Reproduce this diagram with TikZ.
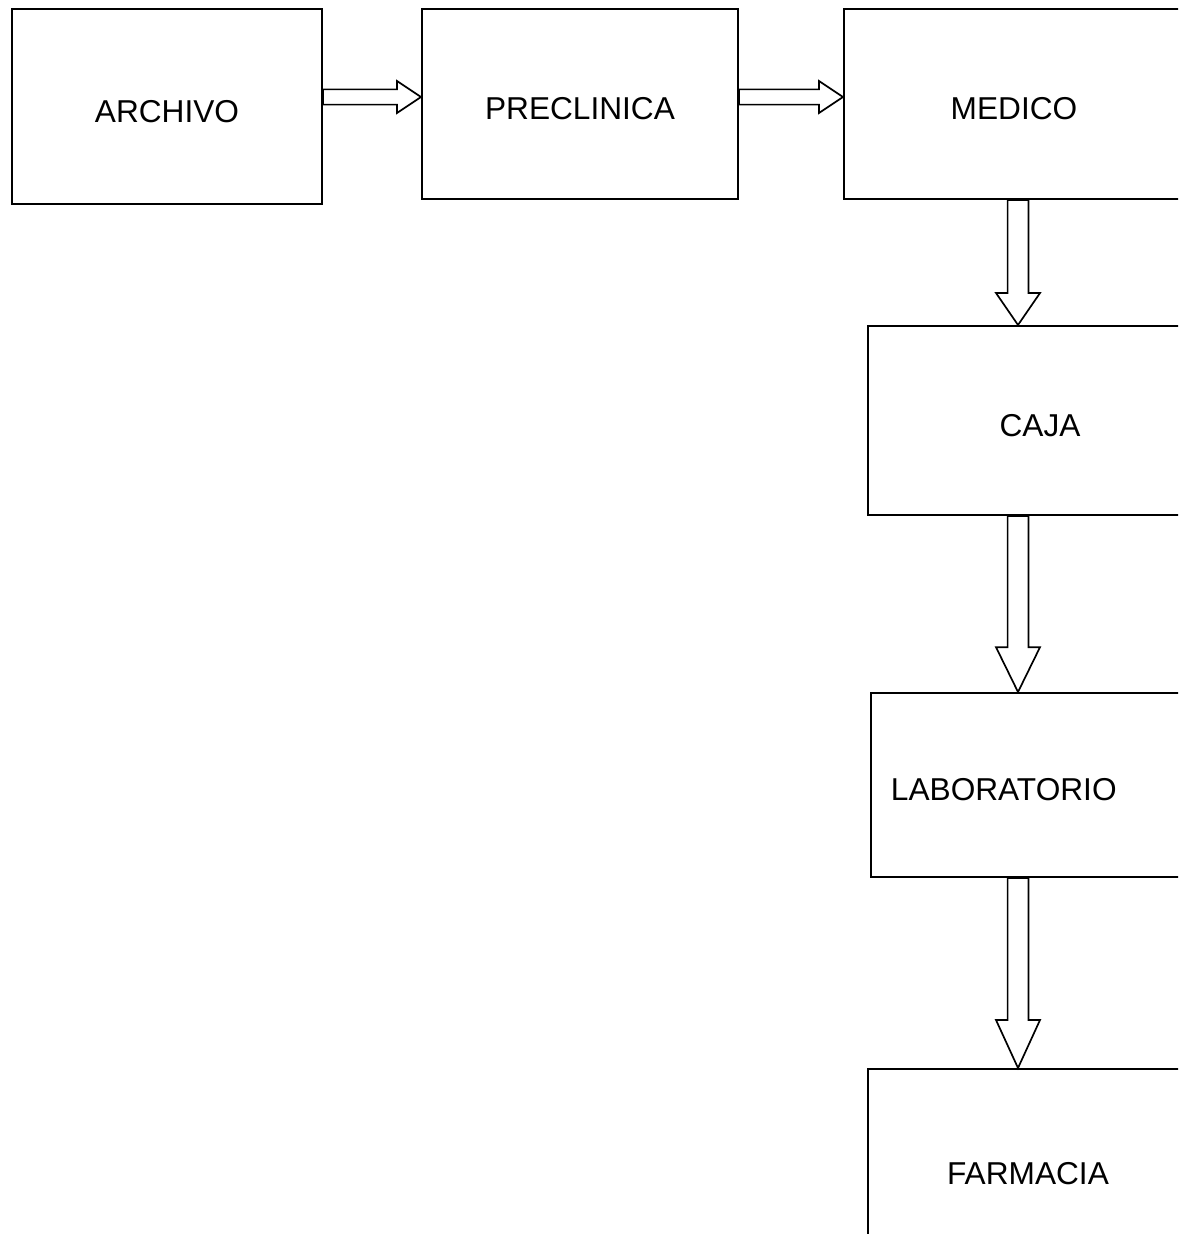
\documentclass[tikz,border=0pt]{standalone}
\usepackage{fontspec}
\setmainfont{Liberation Sans}
\usetikzlibrary{calc}

\tikzset{
  area/.style={draw, line width=1.35pt, anchor=north west, inner sep=0pt,
    text height=0.78cm, text depth=0pt,
    font=\fontsize{22.5}{27}\selectfont},
  flecha/.style={draw, line width=1.2pt, fill=white, line join=miter}
}

% flecha hueca horizontal entre dos areas
\newcommand{\flechader}[2]{%
  \draw[flecha] let \p1=(#1.east |- fila), \p2=(#2.west |- fila) in
    (\x1,\y1+0.19cm) -- (\x2-0.6cm,\y1+0.19cm) -- (\x2-0.6cm,\y1+0.4cm)
    -- (\x2,\y1) -- (\x2-0.6cm,\y1-0.4cm) -- (\x2-0.6cm,\y1-0.19cm)
    -- (\x1,\y1-0.19cm) -- cycle;}

% flecha hueca vertical, #3 = largo de la punta
\newcommand{\flechaabajo}[3]{%
  \draw[flecha] let \p1=(#1.south -| columna), \p2=(#2.north -| columna) in
    (\x1-0.26cm,\y1) -- (\x1-0.26cm,\y2+#3) -- (\x1-0.55cm,\y2+#3)
    -- (\x1,\y2) -- (\x1+0.55cm,\y2+#3) -- (\x1+0.26cm,\y2+#3)
    -- (\x1+0.26cm,\y1) -- cycle;}

\begin{document}
\begin{tikzpicture}[x=0.025cm, y=-0.025cm]
  \useasboundingbox (0,0) rectangle (1178,1234);
  \clip (0,0) rectangle (1178,1234);

  % fila superior
  \node[area, minimum width=7.75cm, minimum height=4.875cm] (archivo) at (11,8) {ARCHIVO};
  \node[area, minimum width=7.9cm, minimum height=4.75cm] (preclinica) at (421,8) {PRECLINICA};
  \node[area, minimum width=8.5cm, minimum height=4.75cm] (medico) at (843,8) {MEDICO};

  % columna derecha
  \node[area, minimum width=8.6cm, minimum height=4.725cm] (caja) at (867,325) {CAJA};
  \node[area, minimum width=8.5cm, minimum height=4.6cm, text width=7.5cm,
        inner xsep=0.5cm, align=left] (laboratorio) at (870,692) {LABORATORIO};
  \node[area, minimum width=8cm, minimum height=5cm] (farmacia) at (867,1068) {FARMACIA};

  \coordinate (fila) at (0,97);
  \coordinate (columna) at (1018,0);

  \flechader{archivo}{preclinica}
  \flechader{preclinica}{medico}

  \flechaabajo{medico}{caja}{0.8cm}
  \flechaabajo{caja}{laboratorio}{1.12cm}
  \flechaabajo{laboratorio}{farmacia}{1.2cm}
\end{tikzpicture}
\end{document}
